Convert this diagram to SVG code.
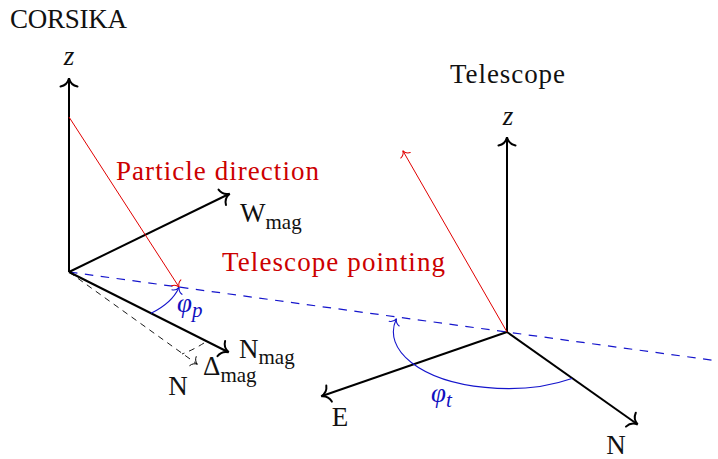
<svg xmlns="http://www.w3.org/2000/svg" width="718" height="459" viewBox="0 0 718 459">
<style>
text{font-family:"Liberation Serif","Times New Roman",serif;font-size:27px;fill:#111}
.it{font-style:italic}
.red{fill:#cc0000}
.blue{fill:#1010c0}
.sub{font-size:21px}
.axis{stroke:#000;stroke-width:2;fill:none}
.redl{stroke:#e00000;stroke-width:1;fill:none}
.bluel{stroke:#1515cc;stroke-width:1.1;fill:none}
.bdash{stroke:#1515cc;stroke-width:1.2;stroke-dasharray:8.5 7.5;fill:none}
.kdash{stroke:#000;stroke-width:0.9;stroke-dasharray:6 5;fill:none}
</style>
<defs>
<marker id="ak" markerUnits="userSpaceOnUse" orient="auto" overflow="visible" refX="0" refY="0" markerWidth="20" markerHeight="20">
<path d="M -7.5 -8.5 C -6.5 -3.5 -2.5 -0.8 0.8 0 C -2.5 0.8 -6.5 3.5 -7.5 8.5" fill="none" stroke="#000" stroke-width="2" stroke-linecap="round"/>
</marker>
<marker id="ar" markerUnits="userSpaceOnUse" orient="auto" overflow="visible" refX="0" refY="0" markerWidth="12" markerHeight="12">
<path d="M -5 -5.5 C -4.3 -2.3 -1.6 -0.5 0.5 0 C -1.6 0.5 -4.3 2.3 -5 5.5" fill="none" stroke="#e00000" stroke-width="1" stroke-linecap="round"/>
</marker>
<marker id="ab" markerUnits="userSpaceOnUse" orient="auto" overflow="visible" refX="0" refY="0" markerWidth="12" markerHeight="12">
<path d="M -5 -5.5 C -4.3 -2.3 -1.6 -0.5 0.5 0 C -1.6 0.5 -4.3 2.3 -5 5.5" fill="none" stroke="#1515cc" stroke-width="1.1" stroke-linecap="round"/>
</marker>
<marker id="akd" markerUnits="userSpaceOnUse" orient="auto" overflow="visible" refX="0" refY="0" markerWidth="12" markerHeight="12">
<path d="M -5 -5.5 C -4.3 -2.3 -1.6 -0.5 0.5 0 C -1.6 0.5 -4.3 2.3 -5 5.5" fill="none" stroke="#000" stroke-width="0.9" stroke-linecap="round"/>
</marker>
</defs>

<g id="connectors">
<!-- telescope pointing line -->
<line class="bdash" x1="69" y1="272" x2="718" y2="361"/>
<!-- CORSIKA frame -->
<line class="axis" x1="69" y1="272" x2="69" y2="79" marker-end="url(#ak)"/>
<line class="axis" x1="69" y1="272" x2="229" y2="194" marker-end="url(#ak)"/>
<line class="axis" x1="69" y1="272" x2="228" y2="352" marker-end="url(#ak)"/>
<line class="kdash" x1="69" y1="272" x2="197" y2="364" marker-end="url(#akd)"/>
<path class="kdash" d="M 204 343 Q 193 350 182 354"/>
<line class="redl" x1="69" y1="117" x2="179" y2="287" marker-end="url(#ar)"/>
<path class="bluel" d="M 151 313.3 C 165.5 306.2 174.5 297.5 179 287.5" marker-end="url(#ab)"/>
<!-- Telescope frame -->
<line class="axis" x1="507" y1="332" x2="507" y2="138" marker-end="url(#ak)"/>
<line class="axis" x1="507" y1="332" x2="322" y2="396" marker-end="url(#ak)"/>
<line class="axis" x1="507" y1="332" x2="637" y2="424" marker-end="url(#ak)"/>
<line class="redl" x1="507" y1="332" x2="403" y2="151" marker-end="url(#ar)"/>
<path class="bluel" d="M 572 378.4 C 546.7 387.2 515.3 390.4 485.2 387.4 C 454.9 384.5 428.4 375.6 411.6 362.7 C 394.8 349.8 389.4 334 396.3 319.1" marker-end="url(#ab)"/>
</g>

<g id="corsika">
<text x="10" y="28" textLength="117" lengthAdjust="spacing">CORSIKA</text>
</g>
<g id="corsika-z"><text class="it" x="69" y="65" text-anchor="middle">z</text></g>
<g id="particle-direction"><text class="red" x="116" y="180" textLength="203" lengthAdjust="spacing">Particle direction</text></g>
<g id="w-mag"><text x="240" y="222">W<tspan class="sub" dy="7">mag</tspan></text></g>
<g id="n-mag"><text x="239" y="358">N<tspan class="sub" dy="6">mag</tspan></text></g>
<g id="delta-mag"><text x="203" y="375">Δ<tspan class="sub" dy="7">mag</tspan></text></g>
<g id="n-corsika"><text x="178" y="395" text-anchor="middle">N</text></g>
<g id="phi-p"><text class="blue it" x="177" y="312">φ<tspan class="sub" dy="5">p</tspan></text></g>
<g id="telescope-pointing"><text class="red" x="222" y="271" textLength="223" lengthAdjust="spacing">Telescope pointing</text></g>

<g id="telescope"><text x="450" y="83" textLength="115" lengthAdjust="spacing">Telescope</text></g>
<g id="telescope-z"><text class="it" x="508" y="125" text-anchor="middle">z</text></g>
<g id="e-axis"><text x="340" y="426" text-anchor="middle">E</text></g>
<g id="n-telescope"><text x="616" y="454" text-anchor="middle">N</text></g>
<g id="phi-t"><text class="blue it" x="431" y="402">φ<tspan class="sub" dy="5">t</tspan></text></g>
</svg>
